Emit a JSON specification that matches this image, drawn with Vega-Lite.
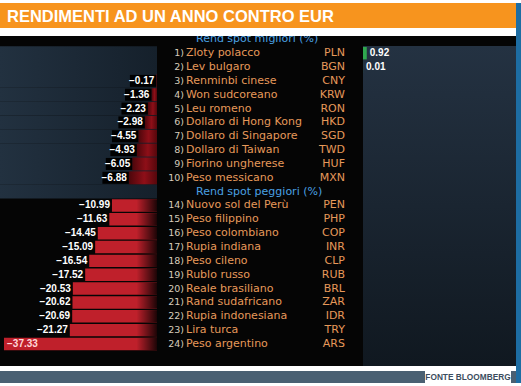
{
  "$schema": "https://vega.github.io/schema/vega-lite/v6.json",
  "background": "white",
  "padding": {"top": 3, "left": 0, "right": 0, "bottom": 0},
  "config": {"view": {"stroke": null}, "concat": {"spacing": 0}},
  "datasets": {
    "rows": [
      {"k": "h1", "g": "h1", "h": "Rend spot migliori  (%)"},
      {"k": "1", "g": "best", "r": "1)", "n": "Zloty polacco", "c": "PLN", "v": 0.92},
      {"k": "2", "g": "best", "r": "2)", "n": "Lev bulgaro", "c": "BGN", "v": 0.01},
      {"k": "3", "g": "best", "r": "3)", "n": "Renminbi cinese", "c": "CNY", "v": -0.17},
      {"k": "4", "g": "best", "r": "4)", "n": "Won sudcoreano", "c": "KRW", "v": -1.36},
      {"k": "5", "g": "best", "r": "5)", "n": "Leu romeno", "c": "RON", "v": -2.23},
      {"k": "6", "g": "best", "r": "6)", "n": "Dollaro di Hong Kong", "c": "HKD", "v": -2.98},
      {"k": "7", "g": "best", "r": "7)", "n": "Dollaro di Singapore", "c": "SGD", "v": -4.55},
      {"k": "8", "g": "best", "r": "8)", "n": "Dollaro di Taiwan", "c": "TWD", "v": -4.93},
      {"k": "9", "g": "best", "r": "9)", "n": "Fiorino ungherese", "c": "HUF", "v": -6.05},
      {"k": "10", "g": "best", "r": "10)", "n": "Peso messicano", "c": "MXN", "v": -6.88},
      {"k": "h2", "g": "h2", "h": "Rend spot peggiori  (%)"},
      {"k": "14", "g": "worst", "r": "14)", "n": "Nuovo sol del Perù", "c": "PEN", "v": -10.99},
      {"k": "15", "g": "worst", "r": "15)", "n": "Peso filippino", "c": "PHP", "v": -11.63},
      {"k": "16", "g": "worst", "r": "16)", "n": "Peso colombiano", "c": "COP", "v": -14.45},
      {"k": "17", "g": "worst", "r": "17)", "n": "Rupia indiana", "c": "INR", "v": -15.09},
      {"k": "18", "g": "worst", "r": "18)", "n": "Peso cileno", "c": "CLP", "v": -16.54},
      {"k": "19", "g": "worst", "r": "19)", "n": "Rublo russo", "c": "RUB", "v": -17.52},
      {"k": "20", "g": "worst", "r": "20)", "n": "Reale brasiliano", "c": "BRL", "v": -20.53},
      {"k": "21", "g": "worst", "r": "21)", "n": "Rand sudafricano", "c": "ZAR", "v": -20.62},
      {"k": "22", "g": "worst", "r": "22)", "n": "Rupia indonesiana", "c": "IDR", "v": -20.69},
      {"k": "23", "g": "worst", "r": "23)", "n": "Lira turca", "c": "TRY", "v": -21.27},
      {"k": "24", "g": "worst", "r": "24)", "n": "Peso argentino", "c": "ARS", "v": -37.33}
    ]
  },
  "hconcat": [
    {
      "vconcat": [
        {
          "vconcat": [
            {
              "width": 516, "height": 25,
              "view": {"fill": "#f7941e", "stroke": null},
              "data": {"values": [{"t": "RENDIMENTI AD UN ANNO CONTRO EUR"}]},
              "mark": {"type": "text", "align": "left", "baseline": "middle", "dx": 7, "dy": 1, "font": "Liberation Sans", "fontWeight": "bold", "fontSize": 16.5, "color": "white"},
              "encoding": {
                "x": {"datum": "t", "type": "nominal", "axis": null, "scale": {"type": "point", "padding": 0, "align": 0}},
                "text": {"field": "t", "type": "nominal"}
              }
            },
            {
              "hconcat": [
                {
                  "width": 157, "height": 330,
                  "view": {"fill": "#050505", "stroke": null},
                  "data": {"name": "rows"},
                  "layer": [
                    {
                      "transform": [{"filter": "datum.g=='best'||datum.g=='h2'"}],
                      "mark": {"type": "bar", "color": {"gradient": "linear", "x1": 0, "y1": 0, "x2": 1, "y2": 0, "stops": [{"offset": 0, "color": "#223140"}, {"offset": 1, "color": "#15202b"}]}},
                      "encoding": {
                        "y": {"field": "k", "type": "nominal", "axis": null, "scale": {"domain": ["h1","1","2","3","4","5","6","7","8","9","10","h2","14","15","16","17","18","19","20","21","22","23","24"], "range": [-3.6, 314.9], "paddingInner": 0, "paddingOuter": 0}},
                        "x": {"datum": -38.3, "type": "quantitative", "axis": null, "scale": {"domain": [-38.3, 0], "nice": false}},
                        "x2": {"datum": 0}
                      }
                    },
                    {
                      "transform": [{"filter": "datum.g=='best' && datum.v<0"}],
                      "mark": {"type": "bar", "height": {"band": 0.94}, "color": {"gradient": "linear", "x1": 0, "y1": 0, "x2": 1, "y2": 0, "stops": [{"offset": 0, "color": "#4c060b"}, {"offset": 0.55, "color": "#8e0f18"}, {"offset": 1, "color": "#55070c"}]}},
                      "encoding": {
                        "y": {"field": "k", "type": "nominal", "axis": null},
                        "x": {"field": "v", "type": "quantitative", "axis": null},
                        "x2": {"datum": 0}
                      }
                    },
                    {
                      "transform": [{"filter": "datum.g=='worst'"}],
                      "mark": {"type": "bar", "height": {"band": 0.9}, "color": "#bf202b"},
                      "encoding": {
                        "y": {"field": "k", "type": "nominal", "axis": null},
                        "x": {"field": "v", "type": "quantitative", "axis": null},
                        "x2": {"datum": 0}
                      }
                    },
                    {
                      "transform": [{"filter": "datum.g=='worst'"}],
                      "mark": {"type": "bar", "height": {"band": 0.9}, "color": {"gradient": "linear", "x1": 0, "y1": 0, "x2": 1, "y2": 0, "stops": [{"offset": 0, "color": "rgba(0,0,0,0)"}, {"offset": 1, "color": "rgba(0,0,0,0.85)"}]}},
                      "encoding": {
                        "y": {"field": "k", "type": "nominal", "axis": null},
                        "x": {"datum": -5, "type": "quantitative", "axis": null},
                        "x2": {"datum": 0}
                      }
                    },
                    {
                      "transform": [{"filter": "datum.g=='best' && datum.v<0"}],
                      "mark": {"type": "point", "shape": "M -4.4 -1 L 0 -1 L 0 1 L -4.4 1 Z", "filled": true, "color": "#000000", "opacity": 1, "size": 144, "strokeWidth": 0},
                      "encoding": {
                        "y": {"field": "k", "type": "nominal", "axis": null},
                        "x": {"field": "v", "type": "quantitative", "axis": null}
                      }
                    },
                    {
                      "transform": [{"filter": "datum.v<0 && datum.v>-30"}],
                      "mark": {"type": "text", "align": "right", "dx": -2, "color": "white", "font": "Liberation Sans", "fontWeight": "bold", "fontSize": 10},
                      "encoding": {
                        "y": {"field": "k", "type": "nominal", "axis": null},
                        "x": {"field": "v", "type": "quantitative", "axis": null},
                        "text": {"field": "v", "type": "quantitative", "format": ".2f"}
                      }
                    },
                    {
                      "transform": [{"filter": "datum.v<=-30"}],
                      "mark": {"type": "text", "align": "left", "dx": 3, "color": "#ffd8d8", "font": "Liberation Sans", "fontWeight": "bold", "fontSize": 10},
                      "encoding": {
                        "y": {"field": "k", "type": "nominal", "axis": null},
                        "x": {"field": "v", "type": "quantitative", "axis": null},
                        "text": {"field": "v", "type": "quantitative", "format": ".2f"}
                      }
                    }
                  ]
                },
                {
                  "width": 206, "height": 330,
                  "view": {"fill": "#050505", "stroke": null},
                  "data": {"name": "rows"},
                  "layer": [
                    {
                      "transform": [{"filter": "isValid(datum.r)"}],
                      "mark": {"type": "text", "align": "right", "color": "#d6ccbb", "font": "DejaVu Sans", "fontSize": 9.5},
                      "encoding": {
                        "y": {"field": "k", "type": "nominal", "axis": null, "scale": {"domain": ["h1","1","2","3","4","5","6","7","8","9","10","h2","14","15","16","17","18","19","20","21","22","23","24"], "range": [-3.6, 314.9], "paddingInner": 0, "paddingOuter": 0}},
                        "x": {"datum": "rank", "type": "nominal", "axis": null, "scale": {"type": "point", "domain": ["rank", "code"], "range": [27, 188], "padding": 0}},
                        "text": {"field": "r", "type": "nominal"}
                      }
                    },
                    {
                      "transform": [{"filter": "isValid(datum.n)"}],
                      "mark": {"type": "text", "align": "left", "dx": 2, "color": "#e6995a", "font": "DejaVu Sans", "fontSize": 11},
                      "encoding": {
                        "y": {"field": "k", "type": "nominal", "axis": null},
                        "x": {"datum": "rank", "type": "nominal", "axis": null},
                        "text": {"field": "n", "type": "nominal"}
                      }
                    },
                    {
                      "transform": [{"filter": "isValid(datum.c)"}],
                      "mark": {"type": "text", "align": "right", "color": "#e6995a", "font": "DejaVu Sans", "fontSize": 11},
                      "encoding": {
                        "y": {"field": "k", "type": "nominal", "axis": null},
                        "x": {"datum": "code", "type": "nominal", "axis": null},
                        "text": {"field": "c", "type": "nominal"}
                      }
                    },
                    {
                      "transform": [{"filter": "isValid(datum.h)"}],
                      "mark": {"type": "text", "align": "left", "dx": 12, "color": "#4aa0e2", "font": "DejaVu Sans", "fontSize": 11, "clip": true},
                      "encoding": {
                        "y": {"field": "k", "type": "nominal", "axis": null},
                        "x": {"datum": "rank", "type": "nominal", "axis": null},
                        "text": {"field": "h", "type": "nominal"}
                      }
                    }
                  ]
                },
                {
                  "width": 153, "height": 330,
                  "view": {"fill": {"gradient": "linear", "x1": 0, "y1": 0, "x2": 0, "y2": 1, "stops": [{"offset": 0, "color": "#050505"}, {"offset": 0.029, "color": "#050505"}, {"offset": 0.03, "color": "#243242"}, {"offset": 1, "color": "#101820"}]}, "stroke": null},
                  "data": {"name": "rows"},
                  "layer": [
                    {
                      "transform": [{"filter": "datum.v>0"}],
                      "mark": {"type": "bar", "height": {"band": 0.9}, "color": "#2fa84f"},
                      "encoding": {
                        "y": {"field": "k", "type": "nominal", "axis": null, "scale": {"domain": ["h1","1","2","3","4","5","6","7","8","9","10","h2","14","15","16","17","18","19","20","21","22","23","24"], "range": [-3.6, 314.9], "paddingInner": 0, "paddingOuter": 0}},
                        "x": {"field": "v", "type": "quantitative", "axis": null, "scale": {"domain": [0, 37.3], "nice": false}},
                        "x2": {"datum": 0}
                      }
                    },
                    {
                      "transform": [{"filter": "datum.v>0"}],
                      "mark": {"type": "text", "align": "left", "dx": 3, "color": "white", "font": "Liberation Sans", "fontWeight": "bold", "fontSize": 10},
                      "encoding": {
                        "y": {"field": "k", "type": "nominal", "axis": null},
                        "x": {"field": "v", "type": "quantitative", "axis": null},
                        "text": {"field": "v", "type": "quantitative", "format": ".2f"}
                      }
                    }
                  ]
                }
              ]
            }
          ],
          "spacing": 8
        },
        {
          "hconcat": [
            {
              "width": 425, "height": 12,
              "data": {"values": [{"t": "FONTE BLOOMBERG"}]},
              "mark": {"type": "rect", "color": "#4a6072"},
              "encoding": {}
            },
            {
              "width": 86, "height": 12,
              "view": {"fill": "white", "stroke": null},
              "data": {"values": [{"t": "FONTE BLOOMBERG"}]},
              "mark": {"type": "text", "font": "Liberation Sans", "fontWeight": "bold", "fontSize": 8.3, "color": "#3b4d5e", "dy": 1},
              "encoding": {"text": {"field": "t", "type": "nominal"}}
            },
            {
              "width": 5, "height": 12,
              "data": {"values": [{"t": "FONTE BLOOMBERG"}]},
              "mark": {"type": "rect", "color": "#4a6072"},
              "encoding": {}
            }
          ]
        }
      ],
      "spacing": 5
    },
    {
      "width": 5, "height": 380,
      "data": {"values": [{"t": "frame"}]},
      "mark": {"type": "rect", "color": "#1d6da3"},
      "encoding": {}
    }
  ]
}
